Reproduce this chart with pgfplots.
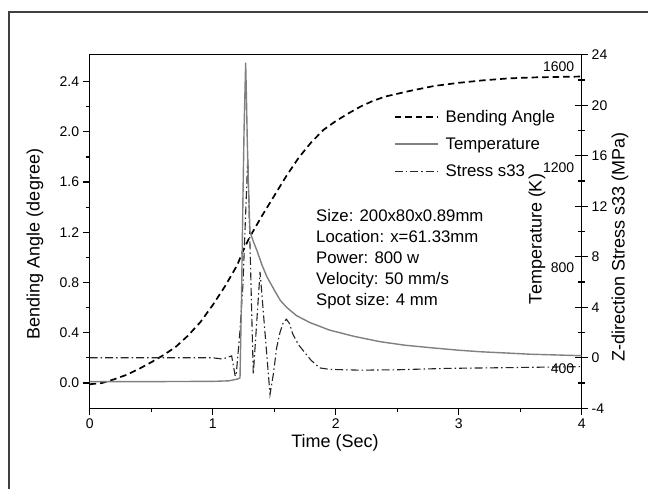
\documentclass[border=0pt]{standalone}
\usepackage{pgfplots}
\pgfplotsset{compat=1.18}
\usepackage{fontspec}
\setmainfont{Liberation Sans}
\begin{document}
\begin{tikzpicture}
\useasboundingbox (-89.7pt,-80.7pt) rectangle (558.3pt,408.3pt);
\fill[white] (-89.7pt,-80.7pt) rectangle (558.3pt,408.3pt);
\draw[line width=2pt, black!75] (-80.7pt,-100pt) -- (-80.7pt,396.6pt) -- (600pt,396.6pt);
\pgfplotsset{every axis/.append style={scale only axis, width=492pt, height=353.6pt,
  xmin=0, xmax=4, /pgf/number format/assume math mode=true,
  /pgf/number format/1000 sep={},
  tick label style={font=\fontsize{14}{16}\selectfont},
  axis line style={line width=1.5pt},
  every tick/.style={black, line width=1.2pt}}}
% Bending angle axis (left)
\begin{axis}[
  ymin=-0.2014, ymax=2.614,
  ytick={0,0.4,0.8,1.2,1.6,2.0,2.4}, minor y tick num=1,
  xtick={0,1,2,3,4}, minor x tick num=1,
  xtick pos=left, ytick pos=left, tick align=outside,
  major tick length=7pt, minor tick length=4pt,
  yticklabel style={/pgf/number format/.cd, fixed, fixed zerofill, precision=1},
  xticklabel style={/pgf/number format/.cd, fixed, precision=0},
  legend style={draw=none, fill=none, inner sep=0pt, at={(0.618,0.85)}, anchor=north west,
    font=\fontsize{16.8}{19}\selectfont, row sep=10pt},
  legend cell align=left,
  legend image code/.code={\draw[#1] (0pt,0pt) -- (43pt,0pt); \path (48pt,0pt);},
]
\addplot[black, line width=1.7pt, dash pattern=on 6.5pt off 4pt] coordinates {
(0,-0.01) (0.1,0.0) (0.2,0.03) (0.3,0.065) (0.4,0.112) (0.5,0.165) (0.6,0.222)
(0.7,0.288) (0.8,0.378) (0.9,0.485) (1.0,0.62) (1.1,0.77) (1.2,0.94) (1.25,1.06)
(1.3,1.16) (1.4,1.33) (1.5,1.49) (1.6,1.65) (1.7,1.795) (1.8,1.915) (1.9,2.015)
(2.0,2.085) (2.1,2.145) (2.2,2.2) (2.3,2.245) (2.4,2.28) (2.6,2.325) (2.8,2.365)
(3.0,2.39) (3.2,2.41) (3.4,2.425) (3.6,2.433) (3.8,2.437) (4.0,2.44)};
\addlegendentry{Bending Angle}
\addlegendimage{black!50, line width=1.4pt}
\addlegendentry{Temperature}
\addlegendimage{black!85, line width=1.1pt, dash pattern=on 8pt off 3pt on 1.5pt off 3pt}
\addlegendentry{Stress s33}
\end{axis}
% Stress axis (right)
\begin{axis}[
  axis y line*=right, axis x line=none,
  ymin=-4, ymax=24, ytick={-4,0,4,8,12,16,20,24}, minor y tick num=1,
  tick align=center, major tick length=13pt, minor tick length=7pt,
  yticklabel style={/pgf/number format/.cd, fixed, precision=0},
]
\addplot[black!85, line width=1.1pt, dash pattern=on 8pt off 3pt on 1.5pt off 3pt] coordinates {
(0,0) (0.5,0) (1.0,0) (1.08,-0.1) (1.154,0.15) (1.182,-1.4) (1.19,-1.45) (1.22,1.9)
(1.246,5.8) (1.285,15.8) (1.33,-1.3) (1.385,6.8) (1.466,-2.9) (1.493,-1.3) (1.52,0.8)
(1.547,2.0) (1.574,2.8) (1.60,3.05) (1.625,2.7) (1.65,1.9) (1.7,1.0) (1.75,0.4)
(1.8,-0.2) (1.87,-0.8) (1.95,-0.92) (2.2,-0.98) (2.5,-0.95) (2.9,-0.84) (3.4,-0.78)
(3.85,-0.72) (4.0,-0.7)};
\end{axis}
% Temperature axis (labels inside)
\begin{axis}[
  axis y line*=right, axis x line=none, axis line style={draw=none},
  ymin=240.8, ymax=1648, ytick={400,800,1200,1600},
  major tick length=0pt,
  yticklabel style={anchor=east, xshift=-4pt, /pgf/number format/.cd, fixed, precision=0},
]
\addplot[black!50, line width=1.4pt] coordinates {
(0,347) (0.5,347) (1.0,348) (1.13,350) (1.2,357) (1.222,362) (1.235,700) (1.245,1050)
(1.255,1350) (1.268,1616) (1.275,1460) (1.281,1308) (1.292,1100) (1.303,945) (1.33,905)
(1.36,868) (1.40,812) (1.44,765) (1.5,712) (1.55,670) (1.6,643) (1.68,610) (1.79,582)
(1.95,552) (2.15,527) (2.36,506) (2.56,492) (2.77,482) (3.0,472) (3.17,466) (3.38,461)
(3.58,456) (3.8,453) (4.0,450)};
\end{axis}
\node[rotate=90, font=\fontsize{18}{20}\selectfont] at (-54.7pt,164.3pt) {Bending Angle (degree)};
\node[font=\fontsize{18}{20}\selectfont] at (245.3pt,-34.4pt) {Time (Sec)};
\node[rotate=90, font=\fontsize{18}{20}\selectfont] at (530.3pt,161.6pt) {Z-direction Stress s33 (MPa)};
\node[rotate=90, font=\fontsize{18}{20}\selectfont] at (447.3pt,169.3pt) {Temperature (K)};
\node[anchor=north west, inner sep=0pt, align=left, font=\fontsize{16.75}{21}\selectfont]
  at (226.3pt,199.3pt) {Size: 200x80x0.89mm\\Location: x=61.33mm\\Power: 800 w\\Velocity: 50 mm/s\\Spot size: 4 mm};
\end{tikzpicture}
\end{document}
